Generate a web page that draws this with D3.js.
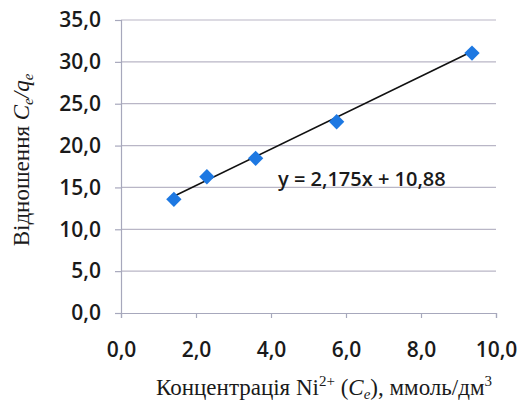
<!DOCTYPE html>
<html>
<head>
<meta charset="utf-8">
<script src="https://cdn.jsdelivr.net/npm/d3@7"></script>
<style>
  body { margin: 0; background: #fff; }
  .tick text { font-family: "Open Sans", sans-serif; font-weight: 600; fill: #1a1a1a; }
  .ttl { font-family: "Liberation Serif", "Times New Roman", serif; fill: #1a1a1a; }
</style>
</head>
<body>
<svg id="chart" width="519" height="403"></svg>
<script>
// data
var concentration = [1.41, 2.29, 3.59, 5.75, 9.36];   // Ce, mmol/dm3
var ratio = [13.58, 16.28, 18.48, 22.85, 31.05];        // Ce/qe
var trendSlope = 2.175;
var trendIntercept = 10.88;
var xTicks = [0, 2, 4, 6, 8, 10];
var yTicks = [0, 5, 10, 15, 20, 25, 30, 35];

var svg = d3.select("#chart");
var margin = { left: 121, right: 23, top: 20, bottom: 90 };
var W = 519, H = 403;

var x = d3.scaleLinear().domain([0, 10]).range([margin.left, W - margin.right]);
var y = d3.scaleLinear().domain([0, 35]).range([H - margin.bottom, margin.top]);

var fmt = function(d) { return d3.format(".1f")(d).replace(".", ","); };

// gridlines
svg.append("g").selectAll("line")
    .data(yTicks.filter(function(d) { return d > 0; }))
    .enter().append("line")
        .attr("x1", x(0)).attr("x2", x(10))
        .attr("y1", function(d) { return y(d); })
        .attr("y2", function(d) { return y(d); })
        .attr("stroke", "#b9b6c6")
        .attr("stroke-width", 1.2);

// y axis
var gy = svg.append("g")
    .attr("transform", "translate(" + x(0) + ",0)")
    .call(d3.axisLeft(y).tickValues(yTicks).tickFormat(fmt).tickSize(6).tickPadding(14));
gy.selectAll("text").style("font-size", "21px");

// x axis
var gx = svg.append("g")
    .attr("transform", "translate(0," + y(0) + ")")
    .call(d3.axisBottom(x).tickValues(xTicks).tickFormat(fmt).tickSize(5).tickPadding(24));
gx.selectAll("text").style("font-size", "21px");

[gx, gy].forEach(function(g) {
    g.select(".domain").attr("stroke", "#a7a8bc").attr("stroke-width", 1.2);
    g.selectAll(".tick line").attr("stroke", "#a7a8bc").attr("stroke-width", 1.2);
});

// trendline over the data range
var xMin = d3.min(concentration), xMax = d3.max(concentration);
svg.append("line")
    .attr("x1", x(xMin)).attr("y1", y(trendSlope * xMin + trendIntercept))
    .attr("x2", x(xMax)).attr("y2", y(trendSlope * xMax + trendIntercept))
    .attr("stroke", "#111")
    .attr("stroke-width", 1.6);

// markers
var pts = concentration.map(function(c, i) { return [c, ratio[i]]; });
svg.append("g").selectAll("path")
    .data(pts)
    .enter().append("path")
        .attr("d", d3.symbol().type(d3.symbolDiamond2).size(150))
        .attr("transform", function(d) { return "translate(" + x(d[0]) + "," + y(d[1]) + ")"; })
        .attr("fill", "#1d78e2");

// equation
svg.append("text")
    .attr("x", 278).attr("y", 186)
    .style("font-family", "Open Sans, sans-serif")
    .style("font-weight", 600)
    .style("font-size", "20px")
    .attr("fill", "#1a1a1a")
    .text("y = " + String(trendSlope).replace(".", ",") + "x + " + String(trendIntercept).replace(".", ","));

// x title
var xt = svg.append("text").attr("class", "ttl")
    .attr("x", 324).attr("y", 395)
    .attr("text-anchor", "middle")
    .style("font-size", "23px");
xt.append("tspan").text("Концентрація Ni");
xt.append("tspan").attr("dy", -9).style("font-size", "15px").text("2+");
xt.append("tspan").attr("dy", 9).text(" (");
xt.append("tspan").style("font-style", "italic").text("C");
xt.append("tspan").attr("dy", 4).style("font-style", "italic").style("font-size", "15px").text("e");
xt.append("tspan").attr("dy", -4).text("), ммоль/дм");
xt.append("tspan").attr("dy", -9).style("font-size", "15px").text("3");

// y title
var yt = svg.append("text").attr("class", "ttl")
    .attr("transform", "translate(29,160) rotate(-90)")
    .attr("text-anchor", "middle")
    .style("font-size", "23px");
yt.append("tspan").text("Відношення ");
yt.append("tspan").style("font-style", "italic").text("C");
yt.append("tspan").attr("dy", 4).style("font-style", "italic").style("font-size", "15px").text("e");
yt.append("tspan").attr("dy", -4).style("font-style", "italic").text("/q");
yt.append("tspan").attr("dy", 4).style("font-style", "italic").style("font-size", "15px").text("e");
</script>
</body>
</html>
